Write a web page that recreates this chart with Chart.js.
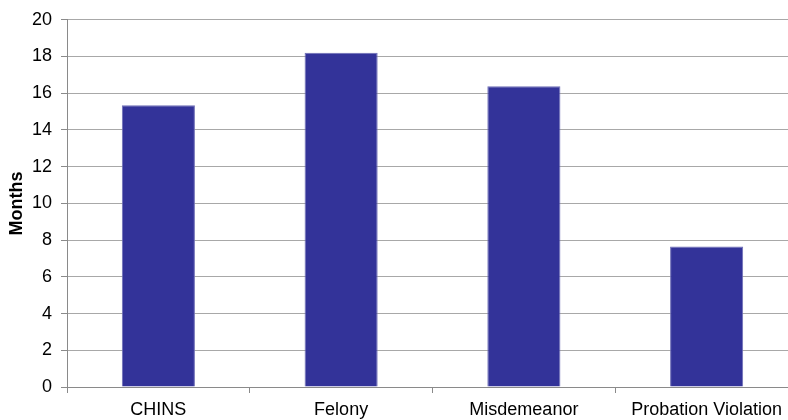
<!DOCTYPE html>
<html>
<head>
<meta charset="utf-8">
<script src="https://cdn.jsdelivr.net/npm/chart.js@4/dist/chart.umd.min.js"></script>
<style>
  html, body { margin: 0; padding: 0; background: #fff; overflow: hidden; }
  #wrap { width: 800px; height: 420px; }
</style>
</head>
<body>
<div id="wrap"><canvas id="myChart" width="800" height="420"></canvas></div>
<script>
const categories = ["CHINS", "Felony", "Misdemeanor", "Probation Violation"];
const months = [15.35, 18.2, 16.38, 7.65];
const yTicks = [0, 2, 4, 6, 8, 10, 12, 14, 16, 18, 20];

const axisFont = { family: "'Liberation Sans', Arial, sans-serif", size: 18 };

const ctx = document.getElementById("myChart").getContext("2d");
const myBarChart = new Chart(ctx, {
  type: "bar",
  data: {
    labels: categories,
    datasets: [
      {
        label: "Months",
        data: months,
        backgroundColor: "#333399",
        borderColor: "#6e6eb6",
        borderWidth: 1,
        barPercentage: 0.4,
        categoryPercentage: 1,
      },
    ],
  },
  options: {
    responsive: false,
    animation: false,
    layout: { padding: { top: 18, right: 2, left: 0, bottom: 0 } },
    plugins: { legend: { display: false }, tooltip: { enabled: false } },
    scales: {
      x: {
        offset: true,
        grid: {
          offset: true,
          drawOnChartArea: false,
          drawTicks: true,
          tickLength: 6,
          color: "#8a8a8a",
        },
        border: { color: "#8a8a8a" },
        ticks: { color: "#000", font: axisFont, padding: 6, maxRotation: 0, autoSkip: false },
        afterFit: (scale) => { scale.height = 33; },
      },
      y: {
        min: 0,
        max: 20,
        afterBuildTicks: (scale) => { scale.ticks = yTicks.map((v) => ({ value: v })); },
        grid: { color: "#a8a8a8", tickLength: 6, tickColor: "#8a8a8a" },
        border: { color: "#8a8a8a" },
        ticks: { color: "#000", font: axisFont, padding: 9 },
        title: {
          display: true,
          text: "Months",
          color: "#000",
          font: { family: axisFont.family, size: 18, weight: "bold" },
          padding: { top: 6, bottom: 0 },
        },
        afterFit: (scale) => { scale.width = 67; },
      },
    },
  },
});
</script>
</body>
</html>
